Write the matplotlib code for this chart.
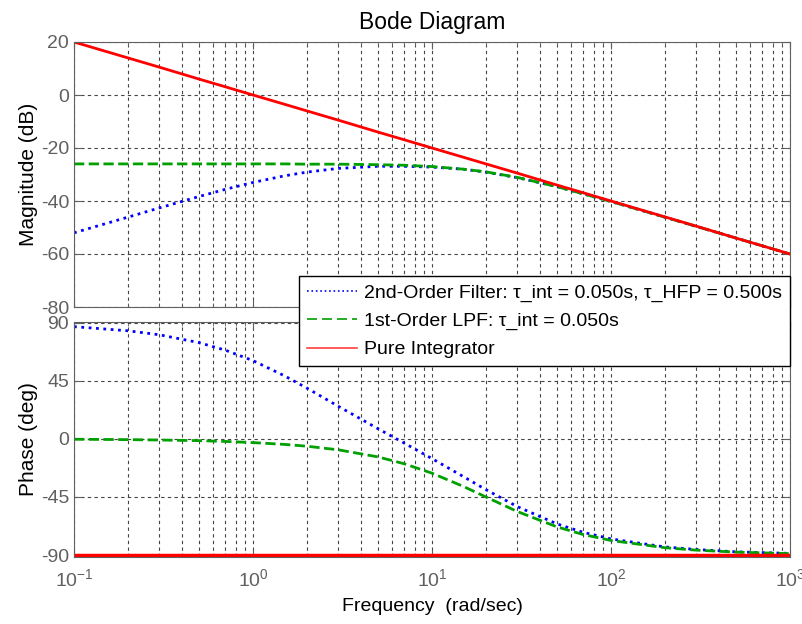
import matplotlib
matplotlib.use("Agg")
import matplotlib.pyplot as plt
from matplotlib.ticker import LogLocator, NullFormatter

plt.rcParams["font.family"] = ["Liberation Sans", "DejaVu Sans"]
plt.rcParams["mathtext.fontset"] = "custom"
plt.rcParams["mathtext.rm"] = "Liberation Sans"
plt.rcParams["axes.unicode_minus"] = False

freq = [0.1, 0.2, 0.3, 0.5, 0.7, 1, 1.5, 2, 3, 5, 7, 10, 15, 20, 30, 50, 70, 100, 200, 300, 500, 1000]

mag_2nd = [-52.0, -46.1, -42.6, -38.3, -35.6, -33.0, -30.5, -29.1, -27.7, -26.9, -26.9, -27.2,
           -28.0, -29.1, -31.2, -34.6, -37.3, -40.2, -46.1, -49.6, -54.0, -60.0]
mag_lpf = [-26.0, -26.0, -26.0, -26.0, -26.0, -26.0, -26.0, -26.1, -26.1, -26.3, -26.5, -27.0,
           -28.0, -29.0, -31.1, -34.6, -37.3, -40.2, -46.1, -49.6, -54.0, -60.0]
mag_int = [20.0, 14.0, 10.5, 6.0, 3.1, 0.0, -3.5, -6.0, -9.5, -14.0, -16.9, -20.0,
           -23.5, -26.0, -29.5, -34.0, -36.9, -40.0, -46.0, -49.5, -54.0, -60.0]

ph_2nd = [86.9, 83.7, 80.6, 74.5, 68.7, 60.6, 48.8, 39.3, 25.2, 7.8, -3.3, -15.3,
          -29.3, -39.3, -52.5, -65.9, -72.4, -77.5, -83.7, -85.7, -87.5, -88.7]
ph_lpf = [-0.3, -0.6, -0.9, -1.4, -2.0, -2.9, -4.3, -5.7, -8.5, -14.0, -19.3, -26.6,
          -36.9, -45.0, -56.3, -68.2, -74.1, -78.7, -84.3, -86.2, -87.7, -88.9]
ph_int = [-90.0] * len(freq)

labels = ["2nd-Order Filter: \u03c4_int = 0.050s, \u03c4_HFP = 0.500s",
          "1st-Order LPF: \u03c4_int = 0.050s",
          "Pure Integrator"]

W, H = 803, 624
fig = plt.figure(figsize=(W / 100, H / 100), dpi=100)
ax1 = fig.add_axes([74 / W, 1 - 307 / H, 716 / W, 265 / H])
ax2 = fig.add_axes([74 / W, 1 - 557 / H, 716 / W, 235 / H])

grey = "#606060"
for ax in (ax1, ax2):
    ax.set_xscale("log")
    ax.set_xlim(0.1, 1000)
    ax.xaxis.set_major_locator(LogLocator(base=10, numticks=10))
    ax.xaxis.set_minor_locator(LogLocator(base=10, subs=range(2, 10), numticks=20))
    ax.xaxis.set_minor_formatter(NullFormatter())
    ax.grid(True, which="major", axis="both", linestyle=(0, (3, 3)), color="#444444", linewidth=0.8)
    ax.grid(True, which="minor", axis="x", linestyle=(0, (3, 3)), color="#444444", linewidth=0.8)
    ax.tick_params(which="both", direction="in", top=True, right=True, colors=grey,
                   labelsize=14, labelcolor=grey)
    ax.tick_params(which="major", length=5)
    ax.tick_params(which="minor", length=3)
    for s in ax.spines.values():
        s.set_color(grey)

ax1.plot(freq, mag_2nd, ":", color="blue", lw=2)
ax1.plot(freq, mag_lpf, "--", color="#00a000", lw=2)
ax1.plot(freq, mag_int, "-", color="red", lw=2)
ax1.set_ylim(-80, 20)
ax1.set_yticks([-80, -60, -40, -20, 0, 20])
ax1.tick_params(labelbottom=False)
ax1.set_ylabel("Magnitude (dB)", fontsize=15, labelpad=2)
ax1.set_title("Bode Diagram", fontsize=16.5, pad=9)

ax2.plot(freq, ph_2nd, ":", color="blue", lw=2)
ax2.plot(freq, ph_lpf, "--", color="#00a000", lw=2)
ax2.plot(freq, ph_int, "-", color="red", lw=2.5)
ax2.set_ylim(-91.5, 90.5)
ax2.set_yticks([-90, -45, 0, 45, 90])
ax2.set_ylabel("Phase (deg)", fontsize=15, labelpad=2)
ax2.set_xlabel("Frequency  (rad/sec)", fontsize=14, labelpad=6)
ax2.tick_params(axis="x", pad=8)

leg_handles = [plt.Line2D([], [], ls=":", color="blue", lw=1.2),
               plt.Line2D([], [], ls=(0, (6, 3)), color="#00a000", lw=1.2),
               plt.Line2D([], [], ls="-", color="#ff4040", lw=1.2)]
leg = fig.legend(leg_handles, labels, loc="upper right",
                 bbox_to_anchor=(790 / W, 1 - 276 / H), fontsize=14,
                 fancybox=False, framealpha=1, edgecolor="black",
                 borderaxespad=0, handlelength=2.6, labelspacing=0.55,
                 borderpad=0.4, handletextpad=0.35)
leg.get_frame().set_linewidth(1.0)

fig.savefig("out.png", dpi=100)
